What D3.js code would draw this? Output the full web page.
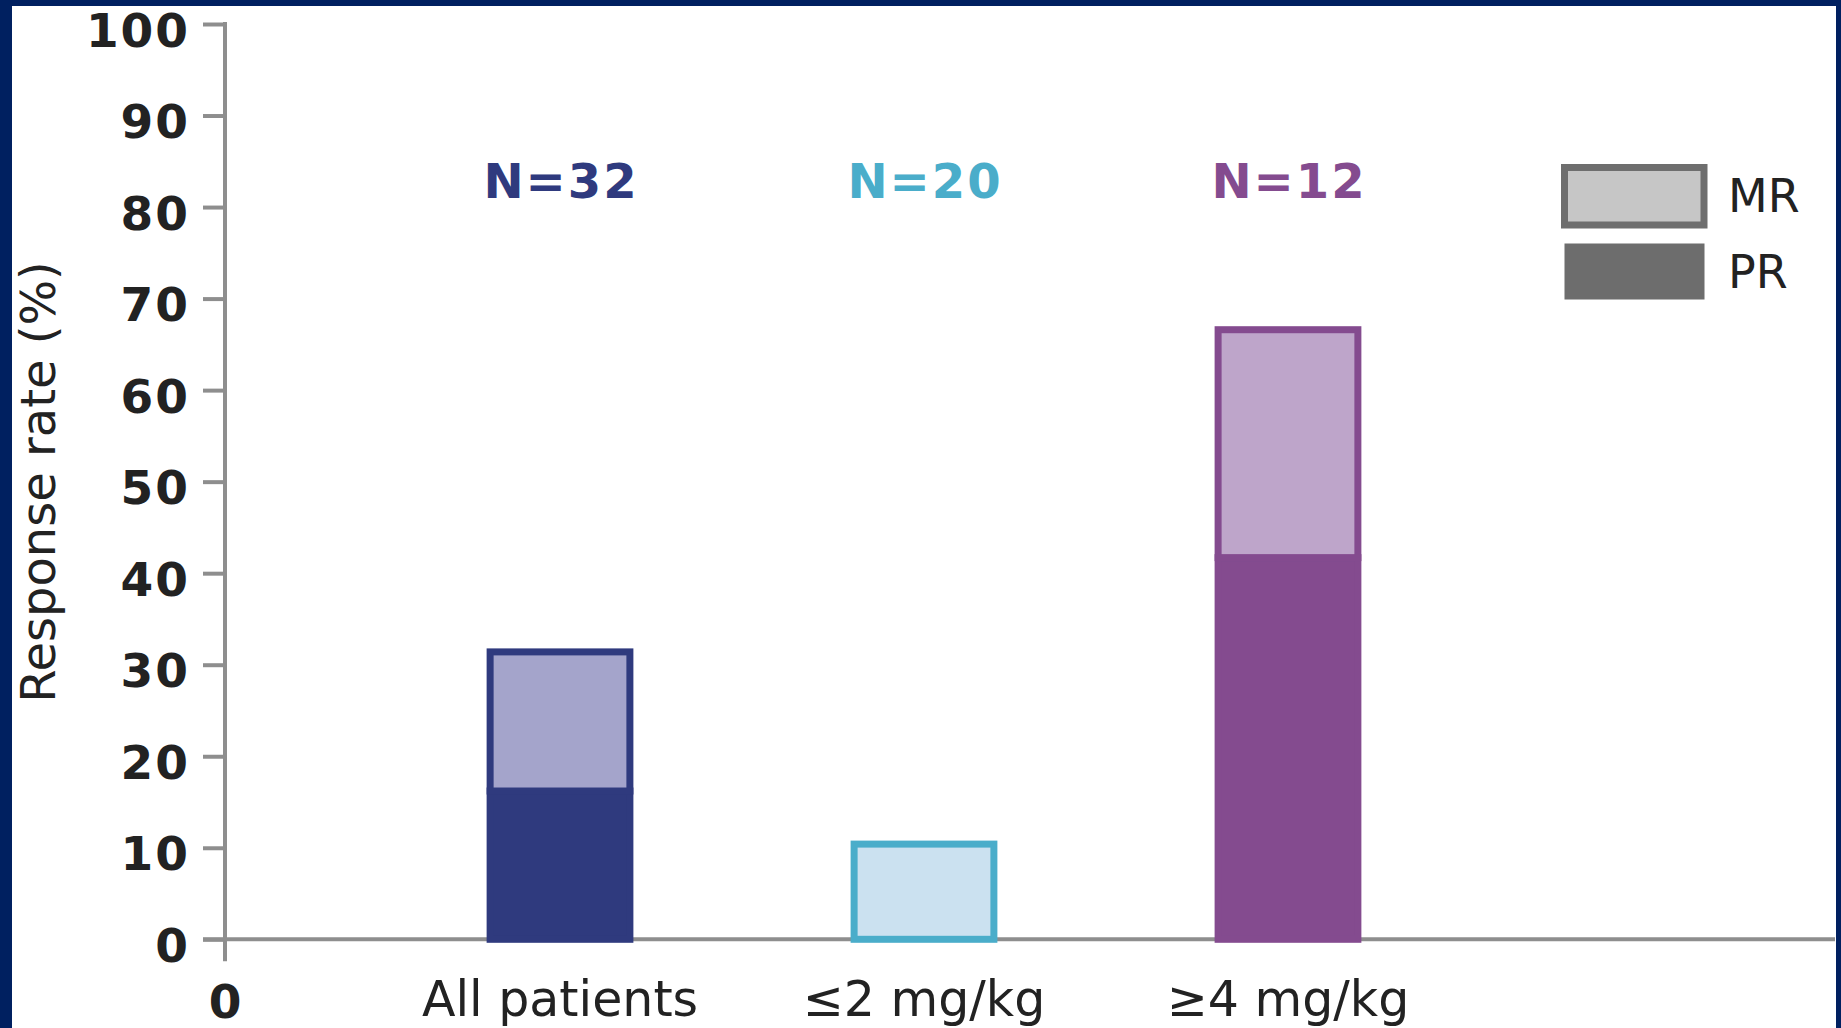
<!DOCTYPE html>
<html>
<head>
<meta charset="utf-8">
<script src="https://cdn.jsdelivr.net/npm/d3@7"></script>
<style>
  html, body { margin: 0; padding: 0; background: #002060; overflow: hidden; }
  svg { display: block; }
  text { font-family: "DejaVu Sans", Verdana, sans-serif; }
</style>
</head>
<body>
<script>
// Response rate by dose group, stacked PR + MR
const categories = ["All patients", "\u22642 mg/kg", "\u22654 mg/kg"];
const prValues = [16.2, 0, 41.7];
const mrValues = [15.2, 10.4, 24.9];
const nLabels = ["N=32", "N=20", "N=12"];
const yTicks = [0, 10, 20, 30, 40, 50, 60, 70, 80, 90, 100];
const legendLabels = ["MR", "PR"];

const darkColors = ["#2f3a7e", "#4aadca", "#844b8f"];
const lightColors = ["#a4a4cb", "#cbe1f0", "#bea5ca"];
const labelColors = ["#2f3a7e", "#4aadca", "#844b8f"];

const W = 1841, H = 1028;
const svg = d3.select("body").append("svg").attr("width", W).attr("height", H);

// white panel inside the navy frame
svg.append("rect").attr("x", 12).attr("y", 6).attr("width", 1824).attr("height", H - 6).attr("fill", "#ffffff");

const axisX = 225;
const y = d3.scaleLinear().domain([0, 100]).range([939.3, 24]);
const x = d3.scaleBand().domain(categories).range([370, 1478]).paddingInner(0.616).paddingOuter(0.33);

const axisColor = "#8e8e8e";
const textColor = "#222222";

// y axis
const yAxis = svg.append("g")
  .attr("transform", `translate(${axisX},0)`)
  .call(d3.axisLeft(y).tickValues(yTicks).tickSize(22).tickPadding(13));
yAxis.select(".domain").remove();
yAxis.selectAll(".tick line").attr("stroke", axisColor).attr("stroke-width", 4);
yAxis.selectAll(".tick text")
  .attr("fill", textColor)
  .attr("font-family", "DejaVu Sans, Verdana, sans-serif")
  .attr("font-weight", "bold")
  .attr("font-size", 47)
  .attr("letter-spacing", 2)
  .attr("dy", "0.47em");

svg.append("line")
  .attr("x1", axisX).attr("x2", axisX)
  .attr("y1", y(100) - 2).attr("y2", y(0) + 22)
  .attr("stroke", axisColor).attr("stroke-width", 4);

// x axis baseline
svg.append("line")
  .attr("x1", axisX - 22).attr("x2", 1835)
  .attr("y1", y(0)).attr("y2", y(0))
  .attr("stroke", axisColor).attr("stroke-width", 4);

// origin label under the axis
svg.append("text")
  .attr("x", axisX).attr("y", 1018)
  .attr("text-anchor", "middle")
  .attr("fill", textColor)
  .attr("font-weight", "bold")
  .attr("font-size", 47)
  .text("0");

// category labels
const xAxis = svg.append("g")
  .attr("transform", `translate(0,${y(0)})`)
  .call(d3.axisBottom(x).tickSize(0).tickPadding(0));
xAxis.select(".domain").remove();
xAxis.selectAll(".tick text")
  .attr("y", 77).attr("dy", 0)
  .attr("fill", textColor)
  .attr("font-family", "DejaVu Sans, Verdana, sans-serif")
  .attr("font-size", 49);

// y axis title
svg.append("text")
  .attr("transform", `translate(55,${482}) rotate(-90)`)
  .attr("text-anchor", "middle")
  .attr("fill", textColor)
  .attr("font-size", 48)
  .text("Response rate (%)");

// stacked bars
const bars = svg.append("g");
categories.forEach((c, i) => {
  const x0 = x(c), bw = x.bandwidth();
  const pr = prValues[i], mr = mrValues[i];
  if (pr > 0) {
    bars.append("rect")
      .attr("x", x0).attr("width", bw)
      .attr("y", y(pr)).attr("height", y(0) - y(pr))
      .attr("fill", darkColors[i])
      .attr("stroke", darkColors[i]).attr("stroke-width", 7);
  }
  bars.append("rect")
    .attr("x", x0).attr("width", bw)
    .attr("y", y(pr + mr)).attr("height", y(pr) - y(pr + mr))
    .attr("fill", lightColors[i])
    .attr("stroke", darkColors[i]).attr("stroke-width", 7);
});

// group size labels
svg.append("g").selectAll("text")
  .data(categories)
  .join("text")
  .attr("x", d => x(d) + x.bandwidth() / 2 + 1)
  .attr("y", 198)
  .attr("text-anchor", "middle")
  .attr("font-weight", "bold")
  .attr("font-size", 48)
  .attr("letter-spacing", 2)
  .attr("fill", (d, i) => labelColors[i])
  .text((d, i) => nLabels[i]);

// legend
const legend = svg.append("g");
legend.append("rect")
  .attr("x", 1564.5).attr("y", 167.5).attr("width", 139.5).attr("height", 57.5)
  .attr("fill", "#c6c6c6").attr("stroke", "#6e6e6e").attr("stroke-width", 7);
legend.append("rect")
  .attr("x", 1564.5).attr("y", 243.5).attr("width", 140).attr("height", 56)
  .attr("fill", "#6d6d6d");
legend.selectAll("text.lab")
  .data(legendLabels)
  .join("text")
  .attr("class", "lab")
  .attr("x", 1728)
  .attr("y", (d, i) => i === 0 ? 212 : 288)
  .attr("fill", textColor)
  .attr("font-size", 46)
  .text(d => d);
</script>
</body>
</html>
